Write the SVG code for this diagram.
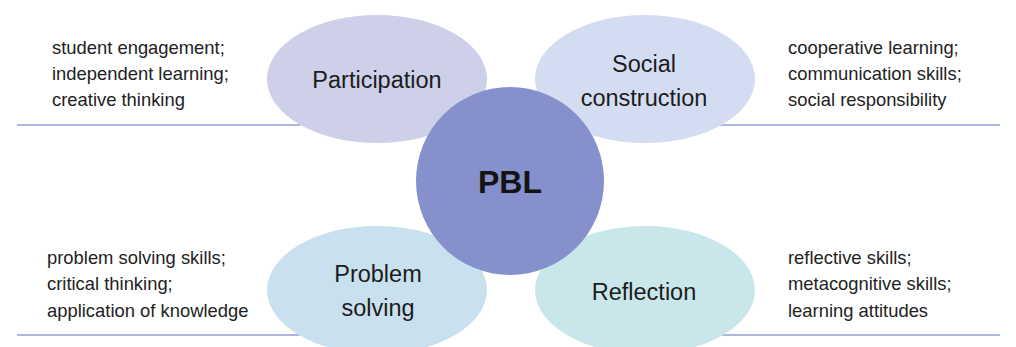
<svg xmlns="http://www.w3.org/2000/svg" width="1016" height="347" viewBox="0 0 1016 347">
  <style>
    .rule { stroke: #91a1da; stroke-width: 1.6; fill: none; }
    .label { font-family: "Liberation Sans", Arial, sans-serif; font-size: 23.5px; fill: #1c1c1c; text-anchor: middle; }
    .core { font-family: "Liberation Sans", Arial, sans-serif; font-size: 32px; font-weight: bold; fill: #141414; text-anchor: middle; }
    .note { font-family: "Liberation Sans", Arial, sans-serif; font-size: 18.4px; fill: #222; }
  </style>
  <rect width="1016" height="347" fill="#ffffff"/>

  <!-- horizontal rules under each group of skills -->
  <g id="connectors">
    <line class="rule" x1="17" y1="125" x2="300" y2="125"/>
    <line class="rule" x1="720" y1="125" x2="1000" y2="125"/>
    <line class="rule" x1="17" y1="335" x2="300" y2="335"/>
    <line class="rule" x1="720" y1="335" x2="1000" y2="335"/>
  </g>

  <g id="participation">
    <ellipse cx="377" cy="79" rx="110" ry="64" fill="#cdd0e8"/>
    <text class="label" x="377" y="88">Participation</text>
  </g>

  <g id="social-construction">
    <ellipse cx="645" cy="79" rx="110" ry="64" fill="#d4dcf1"/>
    <text class="label" x="644" y="72">Social</text>
    <text class="label" x="644" y="106">construction</text>
  </g>

  <g id="problem-solving">
    <ellipse cx="377" cy="290" rx="110" ry="64" fill="#c9e1ee"/>
    <text class="label" x="378" y="282">Problem</text>
    <text class="label" x="378" y="316">solving</text>
  </g>

  <g id="reflection">
    <ellipse cx="645" cy="290" rx="110" ry="64" fill="#c9e7eb"/>
    <text class="label" x="644" y="300">Reflection</text>
  </g>

  <g id="pbl">
    <circle cx="510" cy="181" r="94" fill="#8590cc"/>
    <text class="core" x="510" y="193">PBL</text>
  </g>

  <g id="notes-participation">
    <text class="note" x="52" y="54">student engagement;</text>
    <text class="note" x="52" y="80">independent learning;</text>
    <text class="note" x="52" y="106">creative thinking</text>
  </g>

  <g id="notes-social">
    <text class="note" x="788" y="54">cooperative learning;</text>
    <text class="note" x="788" y="80">communication skills;</text>
    <text class="note" x="788" y="106">social responsibility</text>
  </g>

  <g id="notes-problem">
    <text class="note" x="47" y="264">problem solving skills;</text>
    <text class="note" x="47" y="290">critical thinking;</text>
    <text class="note" x="47" y="317">application of knowledge</text>
  </g>

  <g id="notes-reflection">
    <text class="note" x="788" y="264">reflective skills;</text>
    <text class="note" x="788" y="290">metacognitive skills;</text>
    <text class="note" x="788" y="317">learning attitudes</text>
  </g>
</svg>
